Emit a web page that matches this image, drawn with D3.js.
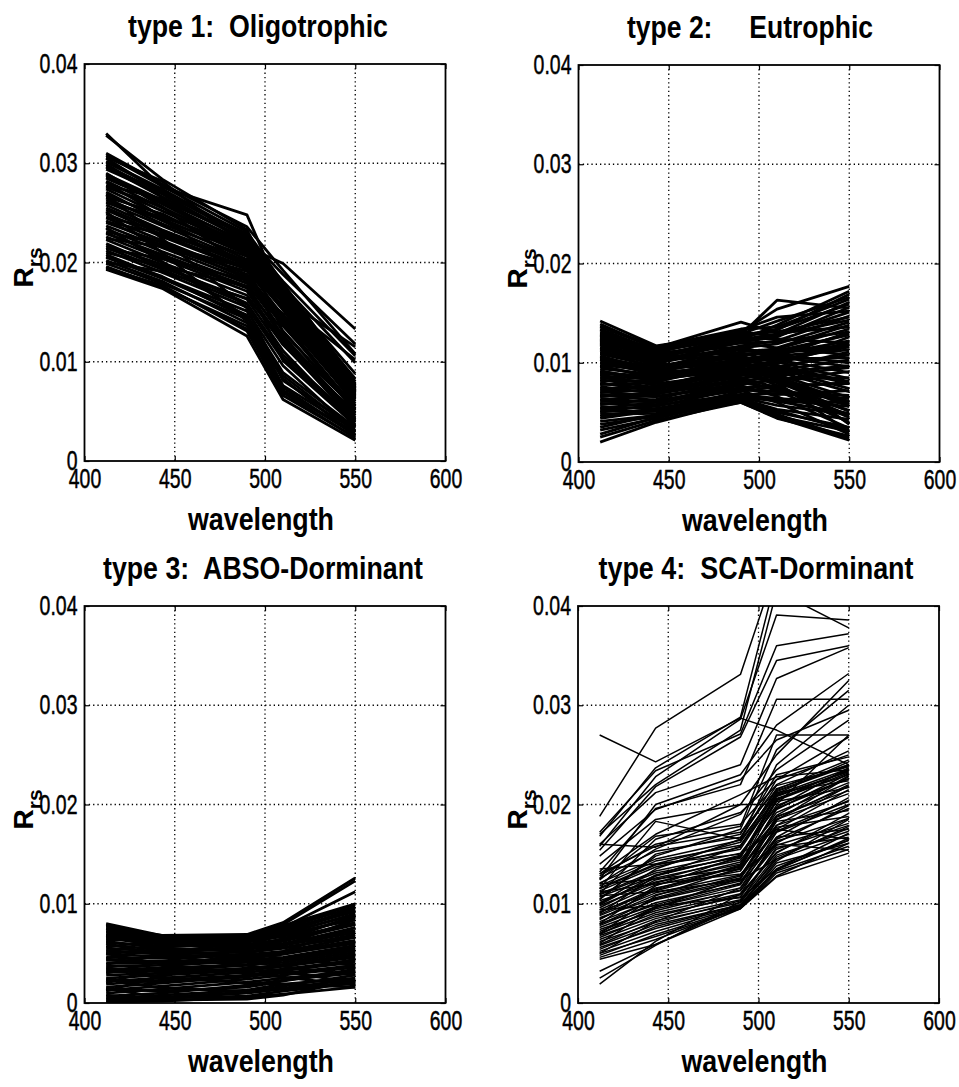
<!DOCTYPE html>
<html>
<head>
<meta charset="utf-8">
<script src="https://cdn.jsdelivr.net/npm/d3@7"></script>
<style>
  body { margin: 0; background: #fff; }
  text { font-family: "Liberation Sans", Arial, sans-serif; fill: #000; }
</style>
</head>
<body>
<svg id="fig" width="959" height="1087"></svg>
<script>
// band centres (nm) where every spectrum is sampled
const wavelengths = [412, 443, 490, 510, 550];
const xTickValues = [400, 450, 500, 550, 600];
const yTickValues = [0, 0.01, 0.02, 0.03, 0.04];
const yTickLabels = ["0", "0.01", "0.02", "0.03", "0.04"];
const panelTitles = ["type 1:  Oligotrophic", "type 2:     Eutrophic", "type 3:  ABSO-Dorminant", "type 4:  SCAT-Dorminant"];
const xLabel = "wavelength";

// spectra are written in units of 1e-3 (sr^-1), one row per station, values at the wavelengths above
const RRS_UNIT = 0.001;

const oligotrophic = [
  [19.3,17.4,12.6,6.2,2.1], [19.4,17.7,13.1,6.6,2.4], [19.6,17.5,13.6,7.1,2.7], [19.9,17.9,14.3,7.6,3.1],
  [20.2,18.1,13.9,8.3,2.5], [20.5,18.4,14.7,8.9,3.4], [20.8,18.5,15.1,9.6,2.9], [21.2,19.0,15.5,10.2,3.7],
  [21.5,19.3,15.8,10.7,4.1], [21.9,19.5,16.3,11.1,3.5], [22.3,20.0,16.7,11.7,4.4], [22.6,20.4,17.1,12.0,4.8],
  [23.0,20.6,17.4,12.7,4.2], [23.4,21.1,17.9,13.1,5.1], [23.7,21.5,18.2,13.6,5.5], [24.2,21.7,18.6,13.9,4.9],
  [24.5,22.2,18.8,14.4,5.8], [24.9,22.6,19.3,14.6,6.2], [25.3,22.8,19.5,15.2,5.6], [25.8,23.3,20.0,15.5,6.5],
  [26.1,23.7,20.1,15.9,6.9], [26.5,23.9,20.6,16.2,6.3], [26.9,24.4,20.8,16.5,7.1], [27.4,24.7,21.2,16.8,7.4],
  [27.7,25.2,21.4,16.3,6.7], [28.2,25.5,21.8,17.1,7.3], [28.5,26.0,22.0,16.6,7.6], [28.9,26.3,22.4,17.3,7.0],
  [29.4,26.9,22.1,16.9,7.5], [29.7,27.1,22.5,17.5,7.8], [30.2,27.4,22.7,17.1,7.2], [30.5,27.0,22.9,17.7,7.7],
  [21.0,19.6,17.6,14.1,6.6], [23.5,20.1,14.5,7.4,2.6], [25.1,21.0,14.1,7.0,2.9], [26.8,22.4,15.4,8.1,3.3],
  [28.1,24.6,18.1,10.1,3.6], [26.0,24.6,21.6,17.4,7.1], [24.1,22.9,20.1,16.6,7.3], [22.4,21.6,19.1,15.6,6.8],
  [20.0,19.1,16.4,12.4,5.3], [29.0,25.6,19.4,12.2,4.6], [30.8,27.7,23.1,17.9,8.0], [27.8,26.4,21.0,13.0,5.2],
  [24.6,23.2,19.7,11.8,4.0], [33.0,27.6,24.8,16.4,11.5], [32.8,28.4,23.3,16.0,10.2], [30.6,28.2,21.6,19.9,13.3],
  [30.1,27.3,22.6,18.8,11.8], [29.6,26.6,22.3,18.1,10.6], [28.6,26.1,21.9,17.6,9.9], [27.6,25.6,21.2,17.2,8.8],
  [26.6,24.9,20.8,17.0,8.3], [31.0,27.9,23.6,19.2,10.8], [19.5,17.6,13.3,6.9,2.3], [20.6,18.6,14.4,8.6,3.0],
  [21.7,19.8,15.9,10.4,3.9], [22.9,20.8,17.6,12.4,4.6], [24.0,22.0,18.4,14.1,5.3], [25.5,23.1,19.8,15.4,6.0],
  [27.1,24.2,20.3,16.0,6.6], [28.8,25.9,21.5,16.4,6.9], [29.9,26.6,22.2,17.3,7.4], [26.3,24.3,21.1,16.8,7.6],
  [23.1,21.8,19.4,16.1,7.0], [21.4,20.4,18.2,14.8,6.4]
];

const eutrophic = [
  [14.2,11.7,13.0,12.7,15.1], [13.6,11.5,14.1,13.0,13.6], [13.1,11.1,12.8,16.3,15.5], [12.9,11.0,13.1,15.4,17.7],
  [12.5,10.7,12.6,13.3,16.9], [12.1,10.5,12.2,12.9,16.1], [11.6,10.1,12.1,12.6,15.6], [11.1,9.9,11.7,12.2,14.7],
  [10.5,9.5,11.5,11.9,14.1], [10.1,9.3,11.1,11.4,13.4], [13.3,11.0,11.6,10.6,9.6], [12.8,10.6,11.0,10.1,8.4],
  [12.3,10.3,10.7,9.5,7.9], [11.8,9.8,10.1,9.1,7.1], [11.3,9.4,9.9,8.6,6.1], [10.7,9.1,9.4,8.3,5.6],
  [10.3,8.7,9.2,7.7,4.7], [9.7,8.4,9.7,9.9,12.6], [9.2,8.1,9.9,10.6,13.1], [8.8,7.7,9.3,10.0,12.1],
  [8.3,7.5,9.0,9.4,11.1], [8.0,7.1,8.7,9.2,10.3], [7.6,6.9,8.1,8.7,9.5], [7.1,6.6,7.9,8.3,8.5],
  [6.8,6.2,7.5,7.7,7.9], [6.4,6.0,7.3,7.1,6.7], [5.9,5.7,6.8,6.4,5.9], [5.6,5.3,6.6,6.1,4.9],
  [5.1,5.1,6.4,5.3,4.3], [4.8,4.9,6.2,5.0,3.5], [4.1,4.7,6.1,4.6,3.1], [3.8,4.6,6.0,4.4,2.6],
  [2.5,4.2,6.0,4.5,2.2], [2.0,4.0,6.2,4.8,2.4], [3.2,4.4,6.3,5.2,3.2], [9.8,9.1,10.8,11.1,11.8],
  [9.0,8.6,10.4,10.7,11.3], [8.2,8.2,10.0,10.4,10.5], [7.4,7.6,9.6,10.2,11.6], [6.6,7.0,9.0,9.6,10.8],
  [5.8,6.3,8.4,9.0,9.7], [5.0,5.8,7.8,8.3,9.1], [4.4,5.2,7.1,7.6,8.0], [12.0,10.0,12.4,12.8,14.3],
  [11.0,10.4,12.7,13.4,15.9], [10.4,9.0,10.8,11.2,12.8], [7.8,8.0,10.6,11.5,13.8], [6.2,6.8,8.8,8.0,6.0],
  [5.4,6.0,8.0,7.4,5.2], [9.4,8.8,10.0,9.0,3.8], [8.6,8.4,9.2,8.0,3.0], [13.7,11.6,13.4,13.6,16.4],
  [12.6,11.3,12.9,14.2,16.6], [11.4,10.8,12.3,13.8,17.2], [13.9,11.4,12.9,13.1,14.6], [13.4,11.2,12.5,12.4,12.0],
  [12.7,10.9,12.0,11.5,10.8], [12.4,10.4,11.4,11.0,11.6], [11.9,10.2,11.3,10.8,10.0], [11.5,9.7,10.5,10.3,9.0],
  [10.9,9.6,10.9,10.9,12.2], [10.6,9.2,10.3,9.7,8.1], [10.0,8.9,9.8,9.4,7.4], [9.6,8.6,9.5,8.8,6.5],
  [9.1,8.3,9.4,8.5,5.8], [8.5,7.9,8.9,8.1,5.1], [7.9,7.4,8.5,7.5,4.5], [7.3,7.1,8.3,7.2,4.0],
  [6.7,6.6,7.7,6.6,3.4], [6.1,6.1,7.2,6.0,2.8], [5.3,5.6,7.4,6.8,7.2], [4.6,5.4,6.8,6.9,6.4],
  [3.5,4.8,6.6,6.2,5.6], [2.8,4.5,6.5,5.7,4.8], [8.9,8.5,10.2,11.0,12.9], [7.0,7.3,9.2,9.9,11.9],
  [12.2,10.6,12.0,12.1,13.1], [13.0,11.4,13.3,14.6,15.2]
];

const absoDominant = [
  [8.0,6.8,6.9,8.1,12.6], [7.8,6.7,6.8,7.9,12.3], [7.6,6.8,6.6,7.6,11.2], [7.5,6.6,6.7,7.7,9.9],
  [7.2,6.5,6.5,7.3,9.4], [7.0,6.3,6.4,7.0,8.9], [6.7,6.1,6.2,6.7,8.6], [6.5,5.9,5.9,6.4,8.1],
  [6.1,5.7,5.8,6.2,7.9], [5.8,5.4,5.5,5.9,7.6], [5.5,5.2,5.4,5.8,7.1], [5.2,5.0,5.1,5.5,6.9],
  [4.9,4.7,4.9,5.2,6.6], [4.6,4.5,4.8,5.1,6.3], [4.3,4.2,4.5,4.9,6.1], [4.0,4.0,4.3,4.6,5.8],
  [3.7,3.8,4.2,4.5,5.6], [3.4,3.5,3.9,4.3,5.3], [3.1,3.3,3.8,4.1,5.1], [2.8,3.0,3.5,3.8,4.8],
  [2.5,2.8,3.3,3.7,4.6], [2.2,2.5,3.1,3.4,4.3], [1.9,2.3,2.8,3.3,4.1], [1.6,2.0,2.7,3.0,3.8],
  [1.3,1.7,2.4,2.8,3.6], [1.0,1.4,2.1,2.5,3.2], [0.7,1.0,1.8,2.3,3.0], [0.4,0.8,1.3,1.9,2.5],
  [0.2,0.5,1.0,1.4,2.1], [0.1,0.2,0.6,0.9,1.6], [7.5,6.2,5.0,4.5,3.8], [6.8,5.6,4.4,3.7,2.8],
  [6.0,4.8,3.8,3.2,2.0], [5.0,3.9,3.0,2.6,1.8], [3.6,2.6,2.0,1.9,1.6], [2.4,1.5,1.2,1.5,2.4],
  [1.5,0.5,0.7,1.2,2.0], [0.8,0.3,0.4,0.8,2.3], [3.0,4.2,5.5,6.3,8.8], [2.0,3.6,5.0,5.8,8.4],
  [1.2,2.8,4.2,5.2,7.6], [4.5,5.6,6.2,7.0,9.6], [5.6,6.4,6.8,7.4,9.2], [6.3,6.6,6.6,7.8,10.0],
  [3.9,4.9,5.8,6.9,9.0], [7.9,6.6,6.7,7.5,9.7], [7.3,6.4,6.1,6.9,8.4], [6.9,6.0,5.6,6.0,7.3],
  [6.2,5.5,5.2,5.6,6.7], [5.3,4.9,4.6,5.0,6.0], [4.4,4.1,4.1,4.4,5.4], [3.3,3.2,3.4,3.9,4.9],
  [2.3,2.1,2.6,3.2,4.4], [1.4,1.2,1.6,2.2,3.4], [0.5,0.6,1.1,1.7,2.8], [6.6,6.2,6.3,7.1,9.3],
  [5.0,5.3,5.6,6.5,8.7]
];

const scatDominant = [
  [27.0,24.3,28.7,27.5,24.0], [18.8,27.7,33.1,44.0,46.0], [16.8,23.7,28.8,43.0,45.0], [15.8,22.8,28.6,39.1,38.6],
  [17.2,23.4,27.1,36.0,37.2], [15.4,21.8,26.8,34.5,36.0], [16.0,21.2,24.0,32.7,35.8], [13.2,19.6,22.0,30.6,30.6],
  [12.5,20.0,23.0,28.0,33.2], [16.0,15.7,20.0,25.0,32.5], [11.5,18.3,16.5,24.0,30.0], [14.8,19.5,22.5,26.5,29.5],
  [14.0,18.5,20.0,20.0,27.0], [12.0,15.5,19.0,23.5,28.5], [13.0,17.0,21.0,22.8,23.5], [10.5,14.8,17.5,25.5,31.5],
  [12.8,16.0,17.8,27.0,27.0], [11.0,16.5,19.2,22.5,26.8], [17.0,22.0,27.5,41.5,37.8],
  [13.0,15.8,17.2,21.5,24.5], [12.6,15.3,16.7,21.9,23.8], [12.1,14.5,16.4,21.1,24.3], [11.8,14.3,15.9,20.6,23.0],
  [11.3,13.7,15.7,21.2,22.4], [11.0,13.3,15.1,19.7,23.7], [10.7,12.8,14.9,20.3,21.7], [10.1,12.6,14.4,18.9,22.9],
  [9.8,12.1,14.2,18.5,21.1], [9.4,11.9,13.7,19.5,23.1], [9.2,11.3,13.5,17.9,20.3], [8.8,11.1,12.9,17.5,21.5],
  [8.6,10.6,12.8,18.3,19.4], [8.2,10.4,12.3,16.7,20.7], [8.0,9.9,12.1,17.7,18.8], [7.6,9.7,11.6,16.1,19.9],
  [7.4,9.3,11.4,15.9,18.1], [7.0,9.1,11.0,16.7,17.5], [6.8,8.7,10.9,15.1,19.1], [6.4,8.5,10.4,14.9,17.3],
  [6.2,8.1,10.3,15.7,16.7], [5.8,7.9,9.9,14.3,18.5], [5.6,7.5,9.8,14.1,16.1], [5.2,7.2,9.7,13.5,17.1],
  [5.0,6.7,9.5,13.1,15.5], [4.6,6.4,9.6,12.8,16.1], [4.4,5.9,9.5,12.7,15.1], [2.5,5.8,10.2,14.5,17.8],
  [1.9,6.2,11.0,15.2,18.6], [3.2,5.9,9.8,13.4,16.6], [12.0,12.5,13.5,18.5,22.0], [10.0,13.5,16.5,22.5,25.0],
  [9.0,12.8,15.8,21.6,24.0], [8.0,11.8,14.8,20.8,23.4], [7.0,10.8,13.6,19.6,22.6], [6.0,9.6,12.6,18.8,21.4],
  [5.0,8.2,11.6,17.2,20.0], [13.5,14.0,15.0,17.5,16.5], [11.2,12.0,13.0,16.0,15.4], [10.8,11.2,12.4,14.5,17.0],
  [9.4,9.8,10.6,13.5,16.4], [12.4,16.8,18.0,22.0,25.4], [10.4,15.0,17.0,23.0,24.8], [11.6,14.0,16.2,21.4,24.0],
  [9.6,12.4,14.6,21.0,23.6], [8.4,11.4,13.8,20.4,23.2], [10.3,12.2,14.0,19.2,22.2], [9.1,11.6,13.3,18.7,21.8],
  [8.5,10.9,12.6,17.3,20.4], [7.8,10.1,12.0,16.5,19.6], [7.2,9.5,11.3,16.3,18.6], [6.6,8.9,10.7,15.5,17.9],
  [5.9,8.3,10.1,14.7,17.6], [5.4,7.7,9.9,13.8,16.4], [4.8,6.9,9.6,13.3,15.8], [11.5,13.9,15.5,20.9,23.3],
  [10.9,13.1,14.7,20.5,23.5], [9.9,12.9,14.8,19.9,22.6], [8.9,11.5,13.9,21.3,23.9], [7.9,10.5,12.5,18.4,22.8],
  [6.9,9.7,11.9,17.9,21.9]
];

// layout of the 2x2 grid of axes
const W = 361, H = 397;
const panels = [
  {title: panelTitles[0], spectra: oligotrophic, left: 84.5, top: 64, titleX: 258, titleW: 260, lineW: 2.8},
  {title: panelTitles[1], spectra: eutrophic, left: 578.5, top: 65, titleX: 750, titleW: 246, lineW: 2.8},
  {title: panelTitles[2], spectra: absoDominant, left: 84.5, top: 606, titleX: 263, titleW: 320, lineW: 2.8},
  {title: panelTitles[3], spectra: scatDominant, left: 578, top: 606, titleX: 756, titleW: 315, lineW: 1.5}
];

// the original uses a narrow face; squeeze tick labels to that width
const tickLabelWidth = s => s.replace(/[^0-9]/g, '').length * 10.8 + s.replace(/[0-9]/g, '').length * 5.5;

const svg = d3.select('#fig');

function drawPanel(p, idx) {
  const g = svg.append('g').attr('transform', `translate(${p.left},${p.top})`);

  const x = d3.scaleLinear().domain([400, 600]).range([0, W]);
  const y = d3.scaleLinear().domain([0, 0.04]).range([H, 0]);

  // dotted grid, drawn below the spectra
  const grid = g.append('g').attr('stroke', '#000').attr('stroke-width', 1.3).attr('stroke-dasharray', '1.3,3');
  grid.selectAll('.gx').data(xTickValues.slice(1, -1)).join('line')
    .attr('class', 'gx')
    .attr('x1', d => x(d)).attr('x2', d => x(d))
    .attr('y1', 0).attr('y2', H);
  grid.selectAll('.gy').data(yTickValues.slice(1, -1)).join('line')
    .attr('class', 'gy')
    .attr('x1', 0).attr('x2', W)
    .attr('y1', d => y(d)).attr('y2', d => y(d));

  // clip so that spectra going past 0.04 are cut at the box
  const clipId = 'clip' + idx;
  g.append('clipPath').attr('id', clipId)
    .append('rect').attr('width', W).attr('height', H);

  const line = d3.line()
    .x((d, i) => x(wavelengths[i]))
    .y(d => y(d * RRS_UNIT));

  g.append('g').attr('clip-path', `url(#${clipId})`)
    .selectAll('path').data(p.spectra).join('path')
    .attr('d', line)
    .attr('fill', 'none')
    .attr('stroke', '#000')
    .attr('stroke-width', p.lineW)
    .attr('stroke-linejoin', 'round');

  // axes with inward ticks (matlab style)
  const xAxis = d3.axisBottom(x).tickValues(xTickValues).tickSizeInner(-5).tickSizeOuter(0).tickPadding(8);
  const yAxis = d3.axisLeft(y).tickValues(yTickValues).tickFormat((d, i) => yTickLabels[i])
    .tickSizeInner(-5).tickSizeOuter(0).tickPadding(7);

  const xg = g.append('g').attr('transform', `translate(0,${H})`).call(xAxis);
  const yg = g.append('g').call(yAxis);
  g.append('g').call(d3.axisTop(x).tickValues(xTickValues).tickFormat('').tickSizeInner(-5).tickSizeOuter(0));
  g.append('g').attr('transform', `translate(${W},0)`)
    .call(d3.axisRight(y).tickValues(yTickValues).tickFormat('').tickSizeInner(-5).tickSizeOuter(0));

  g.selectAll('.domain').remove();
  g.selectAll('.tick line').attr('stroke', '#000').attr('stroke-width', 1.2);
  [xg, yg].forEach(a => a.attr('font-family', null).attr('font-size', 27)
    .selectAll('text')
    .attr('fill', '#000')
    .attr('stroke', '#000').attr('stroke-width', 0.5)
    .attr('textLength', function () { return tickLabelWidth(this.textContent); })
    .attr('lengthAdjust', 'spacingAndGlyphs'));

  // box
  g.append('rect')
    .attr('width', W).attr('height', H)
    .attr('fill', 'none').attr('stroke', '#000').attr('stroke-width', 1.8);

  // y label R_rs
  const yl = g.append('text')
    .attr('transform', `translate(-51.5,${H / 2 + 25}) rotate(-90)`)
    .attr('font-weight', 'bold');
  yl.append('tspan').attr('font-size', 28).text('R');
  yl.append('tspan').attr('font-size', 21).attr('dy', 9).text('rs');

  // x label
  svg.append('text')
    .attr('x', p.left + W / 2 - 4)
    .attr('y', p.top + H + 69)
    .attr('text-anchor', 'middle')
    .attr('font-size', 31)
    .attr('font-weight', 'bold')
    .attr('textLength', 146)
    .attr('lengthAdjust', 'spacingAndGlyphs')
    .text(xLabel);

  // title
  svg.append('text')
    .attr('x', p.titleX)
    .attr('y', p.top - 27)
    .attr('text-anchor', 'middle')
    .attr('font-size', 31)
    .attr('font-weight', 'bold')
    .attr('textLength', p.titleW)
    .attr('lengthAdjust', 'spacingAndGlyphs')
    .style('white-space', 'pre')
    .text(p.title);
}

panels.forEach(drawPanel);
</script>
</body>
</html>
